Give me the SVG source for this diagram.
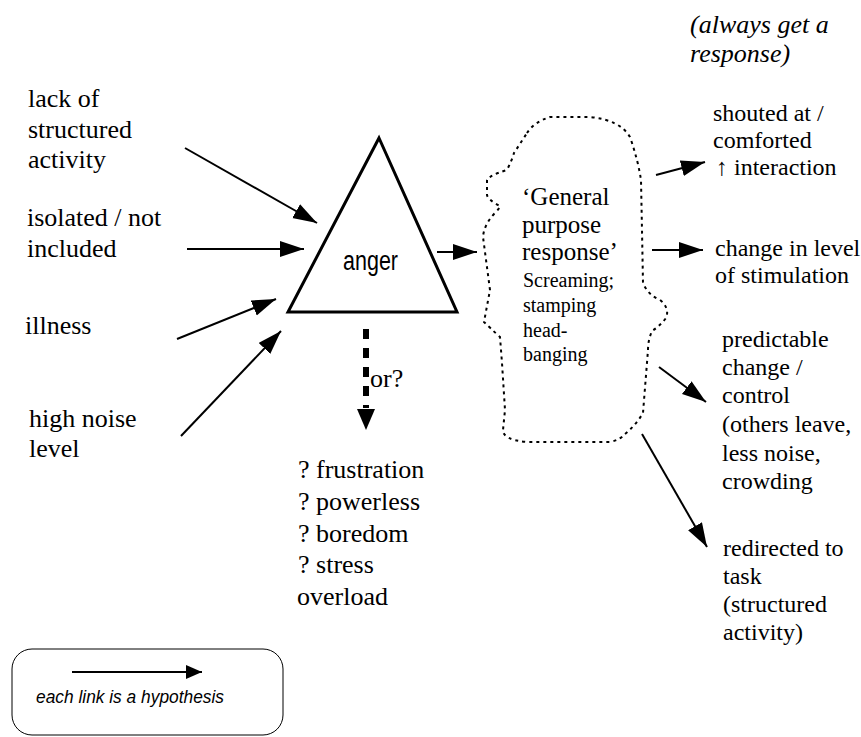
<svg xmlns="http://www.w3.org/2000/svg" width="861" height="737" viewBox="0 0 861 737">
<defs>
<style>
.ln{stroke:#000;stroke-width:2;fill:none}
</style>
<marker id="ah" markerUnits="userSpaceOnUse" markerWidth="26" markerHeight="18" refX="24" refY="8" orient="auto">
<path d="M0,0 L24,8 L0,16 Z" fill="#000"/>
</marker>
<marker id="ahs" markerUnits="userSpaceOnUse" markerWidth="18" markerHeight="16" refX="16" refY="7" orient="auto">
<path d="M0,0 L16,7 L0,14 Z" fill="#000"/>
</marker>
</defs>
<rect width="861" height="737" fill="#fff"/>

<g font-family="'Liberation Serif', 'Times New Roman', serif" fill="#000">
<g id="cause-lack" font-size="26">
<text x="28" y="107">lack of</text>
<text x="28" y="138">structured</text>
<text x="28" y="168">activity</text>
</g>
<g id="cause-isolated" font-size="26">
<text x="27" y="226">isolated / not</text>
<text x="27" y="257">included</text>
</g>
<g id="cause-illness" font-size="26">
<text x="25" y="334">illness</text>
</g>
<g id="cause-noise" font-size="26">
<text x="29" y="427">high noise</text>
<text x="29" y="457">level</text>
</g>

<g id="general-response">
<path d="M527,133 Q534,122 550,117 L590,117 Q620,120 630,137 Q638,160 641,180 L642,230 L643,283 Q648,295 660,300 Q670,308 666,318 Q660,326 652,331 Q648,340 648,350 L643,413 Q636,425 625,434 Q620,440 610,442 L527,442 Q503,440 503,430 L505,410 L502,363 L500,337 Q490,328 484,322 L490,290 L483,237 Q484,225 494,214 Q500,208 500,206 Q488,200 487,195 L487,180 Q490,175 507,170 Q512,160 514,153 Z" fill="none" stroke="#000" stroke-width="2" stroke-dasharray="3 4"/>
<g font-size="25">
<text x="522" y="205">‘General</text>
<text x="522" y="233">purpose</text>
<text x="522" y="260">response’</text>
</g>
<g font-size="20">
<text x="523" y="287">Screaming;</text>
<text x="523" y="312">stamping</text>
<text x="523" y="337">head-</text>
<text x="523" y="361">banging</text>
</g>
</g>

<g id="alternatives" font-size="26">
<text x="370" y="387">or?</text>
<text x="298" y="478">? frustration</text>
<text x="298" y="510">? powerless</text>
<text x="298" y="542">? boredom</text>
<text x="298" y="573">? stress</text>
<text x="297" y="605">overload</text>
</g>

<g id="note" font-size="26" font-style="italic">
<text x="690" y="33">(always get a</text>
<text x="690" y="62">response)</text>
</g>

<g id="out-shouted" font-size="24">
<text x="713" y="121">shouted at /</text>
<text x="713" y="148">comforted</text>
<text x="716" y="175">↑ interaction</text>
</g>
<g id="out-change" font-size="24">
<text x="715" y="256">change in level</text>
<text x="715" y="283">of stimulation</text>
</g>
<g id="out-predictable" font-size="24">
<text x="722" y="347">predictable</text>
<text x="722" y="375">change /</text>
<text x="722" y="403">control</text>
<text x="722" y="432">(others leave,</text>
<text x="722" y="461">less noise,</text>
<text x="722" y="489">crowding</text>
</g>
<g id="out-redirected" font-size="24">
<text x="723" y="556">redirected to</text>
<text x="723" y="584">task</text>
<text x="723" y="612">(structured</text>
<text x="723" y="640">activity)</text>
</g>
</g>

<g id="anger">
<polygon points="379,138 457,312 288,312" fill="#fff" stroke="#000" stroke-width="3" stroke-linejoin="miter"/>
<text font-family="'Liberation Sans', Arial, sans-serif" x="343" y="270" font-size="27" textLength="55" lengthAdjust="spacingAndGlyphs">anger</text>
</g>

<g id="legend">
<rect x="12" y="649" width="271" height="86" rx="20" ry="20" fill="none" stroke="#000" stroke-width="1"/>
<line class="ln" x1="72" y1="672" x2="202" y2="672" marker-end="url(#ahs)"/>
<text font-family="'Liberation Sans', Arial, sans-serif" font-style="italic" x="36" y="703" font-size="17.5" textLength="188" lengthAdjust="spacingAndGlyphs">each link is a hypothesis</text>
</g>

<g id="connectors">
<line class="ln" x1="185" y1="148" x2="317" y2="223" marker-end="url(#ah)"/>
<line class="ln" x1="187" y1="249" x2="304" y2="249" marker-end="url(#ah)"/>
<line class="ln" x1="177" y1="339" x2="276" y2="299" marker-end="url(#ah)"/>
<line class="ln" x1="181" y1="436" x2="281" y2="331" marker-end="url(#ah)"/>
<line class="ln" x1="437" y1="252" x2="477" y2="252" marker-end="url(#ah)"/>
<line x1="366" y1="329" x2="366" y2="408" stroke="#000" stroke-width="6" stroke-dasharray="10 9"/>
<polygon points="357,409 375,409 366,430" fill="#000"/>
<line class="ln" x1="656" y1="175" x2="705" y2="162" marker-end="url(#ah)"/>
<line class="ln" x1="652" y1="250" x2="703" y2="250" marker-end="url(#ah)"/>
<line class="ln" x1="659" y1="367" x2="706" y2="402" marker-end="url(#ah)"/>
<line class="ln" x1="642" y1="434" x2="707" y2="547" marker-end="url(#ah)"/>
</g>
</svg>
